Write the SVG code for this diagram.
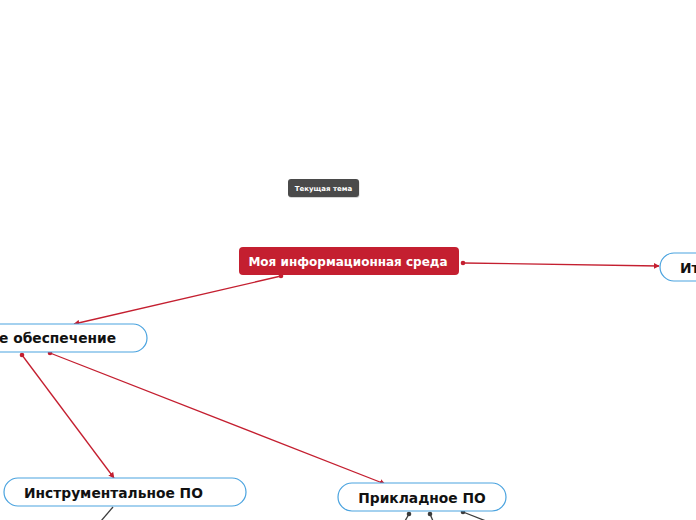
<svg xmlns="http://www.w3.org/2000/svg" width="696" height="520" viewBox="0 0 696 520">
<defs>
<style>
.t{font-family:"DejaVu Sans","Verdana",sans-serif;font-weight:bold;}
.sub{fill:#fff;stroke:#4aa3df;stroke-width:1.2;}
.lbl{font-size:13.8px;fill:#111;}
.red{stroke:#c41f30;stroke-width:1.3;fill:none;}
.dark{stroke:#3c3c3c;stroke-width:1.3;fill:none;}
</style>
<marker id="arr" viewBox="0 0 10 10" refX="9" refY="5" markerWidth="6" markerHeight="6" orient="auto" markerUnits="userSpaceOnUse">
<path d="M0,0 L10,5 L0,10 z" fill="#c41f30"/>
</marker>
</defs>
<rect width="696" height="520" fill="#fff"/>
<g id="connectors">
<line class="red" x1="281" y1="276" x2="74" y2="324" marker-end="url(#arr)"/>
<circle cx="281" cy="276" r="2.3" fill="#c41f30"/>
<line class="red" x1="463" y1="263" x2="659" y2="266" marker-end="url(#arr)"/>
<circle cx="463" cy="263" r="2.3" fill="#c41f30"/>
<line class="red" x1="22" y1="355" x2="114" y2="478" marker-end="url(#arr)"/>
<circle cx="22" cy="355" r="2.3" fill="#c41f30"/>
<line class="red" x1="50" y1="353" x2="385" y2="484" marker-end="url(#arr)"/>
<circle cx="50" cy="353" r="2.3" fill="#c41f30"/>
<line class="dark" x1="113" y1="507" x2="101" y2="521"/>
<line class="dark" x1="409" y1="514" x2="405" y2="521"/>
<circle cx="409" cy="514" r="2.3" fill="#3c3c3c"/>
<line class="dark" x1="430" y1="514" x2="433" y2="521"/>
<circle cx="430" cy="514" r="2.3" fill="#3c3c3c"/>
<line class="dark" x1="463" y1="512" x2="486" y2="521"/>
<circle cx="463" cy="512" r="2.3" fill="#3c3c3c"/>
</g>
<g id="tooltip">
<rect x="288.5" y="180" width="71" height="18" rx="3" fill="#bbb" opacity="0.6"/>
<rect x="288" y="179" width="71" height="18" rx="3" fill="#4a4a4a"/>
<text class="t" x="323.5" y="190.5" font-size="7" fill="#fff" text-anchor="middle">Текущая тема</text>
</g>
<g id="central">
<rect x="239" y="247" width="220" height="28" rx="4" fill="#c41f30"/>
<text class="t" x="348" y="266" font-size="12" fill="#fff" text-anchor="middle">Моя информационная среда</text>
</g>
<g id="node-right">
<rect class="sub" x="660" y="253" width="120" height="28" rx="14"/>
<text class="t lbl" x="680" y="272.5">Ит</text>
</g>
<g id="node-left">
<rect class="sub" x="-100" y="324" width="247" height="28" rx="14"/>
<text class="t lbl" x="-1" y="343">е обеспечение</text>
</g>
<g id="node-instr">
<rect class="sub" x="4" y="478" width="242" height="28" rx="14"/>
<text class="t lbl" x="24" y="497.5">Инструментальное ПО</text>
</g>
<g id="node-appl">
<rect class="sub" x="338" y="483" width="168" height="28" rx="14"/>
<text class="t lbl" x="422" y="502.5" text-anchor="middle">Прикладное ПО</text>
</g>
</svg>
